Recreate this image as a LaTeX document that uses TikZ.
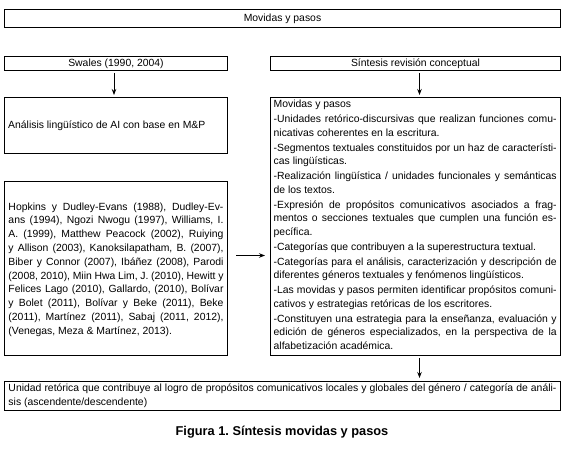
\documentclass[tikz,border=0pt]{standalone}
\usepackage{fontspec}
\setmainfont{Liberation Sans}
\usetikzlibrary{arrows.meta}
\frenchspacing
\begin{document}
\begin{tikzpicture}[x=1pt,y=1pt,
  box/.style={draw, line width=1pt, inner sep=0pt, anchor=north west},
  txt/.style={font=\fontsize{10.4}{13.3}\selectfont},
  arr/.style={-{Stealth[length=6pt,width=4.5pt]}, line width=0.8pt},
  jtxt/.style={inner sep=0pt, align=justify, execute at begin node={\frenchspacing\tolerance=9999\pretolerance=-1\hbadness=10000\hyphenpenalty=10000\exhyphenpenalty=10000}}]
\useasboundingbox (0,0) rectangle (568,-454);
\node[box, minimum width=556pt, minimum height=18pt, txt] (top) at (4,-9) {Movidas y pasos};
\node[box, minimum width=223pt, minimum height=14pt, txt] (swales) at (4,-56) {Swales (1990, 2004)};
\node[box, minimum width=290pt, minimum height=14pt, txt] (sint) at (270,-56) {Síntesis revisión conceptual};
\node[box, minimum width=223pt, minimum height=56pt] (anal) at (4,-97) {};
\node[txt, anchor=west, inner sep=0pt] (analtxt) at ([xshift=4pt]anal.west) {Análisis lingüístico de AI con base en M\&P};
\node[box, minimum width=223pt, minimum height=174pt] (hop) at (4,-181) {};
\node[jtxt, text width=215pt, font=\fontsize{10.4}{13.8}\selectfont, anchor=center] (hoptxt) at ([yshift=-1pt]hop.center) {Hopkins y Dudley-Evans (1988), Dudley-Ev-\linebreak ans (1994), Ngozi Nwogu (1997), Williams, I.\linebreak A. (1999), Matthew Peacock (2002), Ruiying\linebreak y Allison (2003), Kanoksilapatham, B. (2007),\linebreak Biber y Connor (2007), Ibáñez (2008), Parodi\linebreak (2008, 2010), Miin Hwa Lim, J. (2010), Hewitt y\linebreak Felices Lago (2010), Gallardo, (2010), Bolívar\linebreak y Bolet (2011), Bolívar y Beke (2011), Beke\linebreak (2011), Martínez (2011), Sabaj (2011, 2012),\linebreak (Venegas, Meza \& Martínez, 2013).};
\node[box, minimum width=290pt, minimum height=258pt] (mov) at (270,-97) {};
\node[jtxt, text width=283pt, font=\fontsize{10.4}{13.3}\selectfont, anchor=north west, execute at begin node={\parskip=1.9pt}] (movtxt) at ([xshift=3.5pt,yshift=-3pt]mov.north west) {Movidas y pasos\par
-Unidades retórico-discursivas que realizan funciones comu-\linebreak nicativas coherentes en la escritura.\par
-Segmentos textuales constituidos por un haz de característi-\linebreak cas lingüísticas.\par
-Realización lingüística / unidades funcionales y semánticas\linebreak de los textos.\par
-Expresión de propósitos comunicativos asociados a frag-\linebreak mentos o secciones textuales que cumplen una función es-\linebreak pecífica.\par
-Categorías que contribuyen a la superestructura textual.\par
-Categorías para el análisis, caracterización y descripción de\linebreak diferentes géneros textuales y fenómenos lingüísticos.\par
-Las movidas y pasos permiten identificar propósitos comuni-\linebreak cativos y estrategias retóricas de los escritores.\par
-Constituyen una estrategia para la enseñanza, evaluación y\linebreak edición de géneros especializados, en la perspectiva de la\linebreak alfabetización académica.};
\node[box, minimum width=556pt, minimum height=29pt] (bot) at (4,-381) {};
\node[jtxt, text width=548pt, font=\fontsize{10.4}{14}\selectfont, anchor=center] (bottxt) at (bot.center) {Unidad retórica que contribuye al logro de propósitos comunicativos locales y globales del género / categoría de análi-\linebreak sis (ascendente/descendente)};
\node[font=\bfseries\fontsize{12.8}{15}\selectfont, inner sep=0pt] (cap) at (282,-432) {Figura 1. Síntesis movidas y pasos};
\draw[arr, shorten <=2pt, shorten >=2pt] ([xshift=-2pt]swales.south) -- ([xshift=-2pt]anal.north);
\draw[arr, shorten <=2pt, shorten >=2pt] ([xshift=4pt]sint.south) -- ([xshift=4pt]sint.south |- mov.north);
\draw[arr, shorten <=8pt, shorten >=5pt] ([yshift=13pt]hop.east) -- ([yshift=13pt]hop.east -| mov.west);
\draw[arr, shorten <=2pt, shorten >=3pt] ([xshift=4pt]mov.south) -- ([xshift=4pt]mov.south |- bot.north);
\end{tikzpicture}
\end{document}
